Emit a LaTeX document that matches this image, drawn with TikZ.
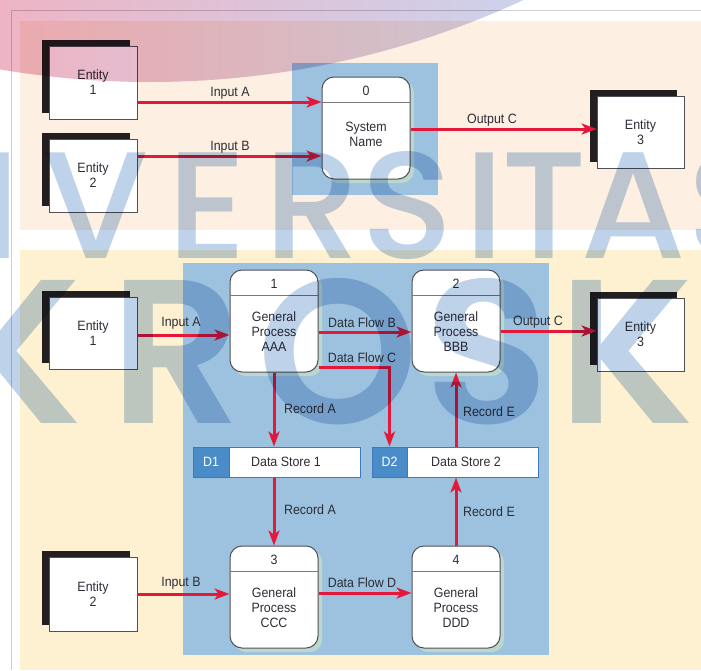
\documentclass[tikz,border=0pt]{standalone}
\usepackage{fontspec}
\setmainfont{Liberation Sans}[FakeStretch=0.92]
\newfontfamily\wmfontA{Poppins Medium}
\newfontfamily\wmfontB{Poppins SemiBold}
\usetikzlibrary{arrows.meta,shadows,calc}

\definecolor{peach}{RGB}{253,240,226}
\definecolor{cream}{RGB}{254,241,209}
\definecolor{zoneblue}{RGB}{156,194,223}
\definecolor{flowred}{RGB}{228,24,58}
\definecolor{inkgray}{RGB}{45,45,55}
\definecolor{entblack}{RGB}{35,31,32}
\definecolor{procline}{RGB}{80,80,88}
\definecolor{divgray}{RGB}{120,120,126}
\definecolor{procshade}{RGB}{188,215,206}
\definecolor{storeblue}{RGB}{74,140,199}
\definecolor{storeline}{RGB}{62,122,186}
\definecolor{framegray}{RGB}{205,207,212}
\definecolor{markblue}{RGB}{190,210,233}
\definecolor{arcpink}{RGB}{238,180,196}
\definecolor{arclilac}{RGB}{205,210,236}

\begin{document}
\begin{tikzpicture}[x=1pt,y=-1pt,
  every node/.style={font=\fontsize{13.5}{15}\selectfont, text=inkgray, inner sep=0pt},
  entity/.style={draw=procline, line width=0.8pt, fill=white,
    minimum width=88pt, minimum height=73pt, align=center,
    general shadow={fill=entblack, shadow xshift=-7pt, shadow yshift=6pt}},
  process/.style={draw=procline, line width=1pt, fill=white, rounded corners=12pt,
    minimum width=88pt, minimum height=102pt,
    general shadow={fill=procshade, shadow xshift=4pt, shadow yshift=-4pt}},
  divider/.style={draw=divgray, line width=1pt},
  proctext/.style={align=center},
  store/.style={draw=storeline, line width=1pt, fill=white, minimum height=30pt},
  storetag/.style={draw=storeline, line width=1pt, fill=storeblue, minimum height=30pt, text=white},
  flow/.style={draw=flowred, line width=3pt, -{Stealth[length=15pt,width=11pt,inset=4pt]}},
  flowlabel/.style={},
  wmletter/.style={anchor=base, text=markblue},
]
\useasboundingbox (0,0) rectangle (701,670);
\fill[white] (0,0) rectangle (701,670);

% page frame and the two panels
\draw[framegray, line width=1pt] (11,670) -- (11,10) -- (701,10);
\fill[peach] (20,21) rectangle (701,230);
\fill[cream] (20,250) rectangle (701,670);

% system boundaries
\fill[zoneblue] (292,63) rectangle (438,195);
\fill[zoneblue] (183,263) rectangle (549,655);

% ---------- context diagram ----------
\node[entity] (e1t) at (93,82.5) {Entity\\1};
\node[entity] (e2t) at (93,175.5) {Entity\\2};
\node[entity, minimum width=87pt, minimum height=72pt] (e3t) at (640.5,132) {Entity\\3};

\node[process] (p0) at (366,128) {};
\draw[divider] ($(p0.north west)+(0,26)$) -- ($(p0.north east)+(0,26)$);
\node (p0n) at ($(p0.north)+(0,14)$) {0};
\node[proctext] (p0t) at ($(p0.north)+(0,58)$) {System\\Name};

\coordinate (yia) at (0,102);
\coordinate (yib) at (0,156);
\coordinate (yoc) at (0,129);
\draw[flow] (e1t.east |- yia) -- (p0.west |- yia);
\draw[flow] (e2t.east |- yib) -- (p0.west |- yib);
\draw[flow] (p0.east |- yoc) -- (e3t.west |- yoc);
\node[flowlabel] (lia) at (230,93) {Input A};
\node[flowlabel] (lib) at (230,147) {Input B};
\node[flowlabel] (loc) at (492,120) {Output C};

% ---------- level-0 diagram ----------
\node[entity, minimum height=72pt] (e1b) at (93,333) {Entity\\1};
\node[entity, minimum width=87pt] (e3b) at (640.5,334.5) {Entity\\3};
\node[entity, minimum height=74pt] (e2b) at (93,594) {Entity\\2};

\node[process] (p1) at (274,321) {};
\node[process] (p2) at (456,321) {};
\node[process] (p3) at (274,597) {};
\node[process] (p4) at (456,597) {};
\foreach \p/\n/\t in {p1/1/AAA, p2/2/BBB, p3/3/CCC, p4/4/DDD}{
  \draw[divider] ($(\p.north west)+(0,26)$) -- ($(\p.north east)+(0,26)$);
  \node (\p n) at ($(\p.north)+(0,14)$) {\n};
  \node[proctext] (\p t) at ($(\p.north)+(0,62)$) {General\\Process\\\t};
}

% data stores
\node[store, minimum width=167pt] (ds1) at (276.5,462) {};
\node[storetag, minimum width=36pt] (ds1d) at (211,462) {D1};
\node (ds1t) at (286,462) {Data Store 1};
\node[store, minimum width=166pt] (ds2) at (455,462) {};
\node[storetag, minimum width=35pt] (ds2d) at (389.5,462) {D2};
\node (ds2t) at (466,462) {Data Store 2};

% flows
\coordinate (yia2) at (0,335);
\coordinate (yfb) at (0,332);
\coordinate (yfc) at (0,367);
\coordinate (yoc2) at (0,331);
\coordinate (yib2) at (0,594);
\coordinate (yfd) at (0,593);
\draw[flow] (e1b.east |- yia2) -- (p1.west |- yia2);
\draw[flow] (p1.east |- yfb) -- (p2.west |- yfb);
\draw[flow] (p1.east |- yfc) -| (ds2d.north);
\draw[flow] (p2.east |- yoc2) -- (e3b.west |- yoc2);
\draw[flow] (p1.south) -- (p1.south |- ds1.north);
\draw[flow] (ds2.north -| p2.south) -- (p2.south);
\draw[flow] (ds1.south -| p3.north) -- (p3.north);
\draw[flow] (p4.north) -- (p4.north |- ds2.south);
\draw[flow] (e2b.east |- yib2) -- (p3.west |- yib2);
\draw[flow] (p3.east |- yfd) -- (p4.west |- yfd);

\node[flowlabel] (lia2) at (181,323) {Input A};
\node[flowlabel] (lfb) at (362,323) {Data Flow B};
\node[flowlabel] (lfc) at (362,358) {Data Flow C};
\node[flowlabel] (loc2) at (538,322) {Output C};
\node[flowlabel] (lra1) at (310,409) {Record A};
\node[flowlabel] (lre1) at (489,412) {Record E};
\node[flowlabel] (lra2) at (310,510) {Record A};
\node[flowlabel] (lre2) at (489,512) {Record E};
\node[flowlabel] (lib2) at (181,583) {Input B};
\node[flowlabel] (lfd) at (362,583) {Data Flow D};

% ---------- watermark, multiplied onto the page ----------
\begin{scope}[blend mode=multiply]
  \begin{scope}
    \clip (0,0) rectangle (701,670);
    \clip (150,-807) circle[radius=889pt];
    \shade[left color=arcpink, right color=arclilac] (0,0) rectangle (530,95);
  \end{scope}
  \begin{scope}[every node/.append style={font=\wmfontA\fontsize{152}{152}\selectfont}]
    \foreach \l/\x in {I/1, V/96, E/207, R/313, S/407, I/485, T/544, A/633, S/733}
      \node[wmletter] at (\x,258) {\l};
  \end{scope}
  \begin{scope}[every node/.append style={font=\wmfontB\fontsize{205}{205}\selectfont}]
    \foreach \l/\x in {K/14, R/176, O/338, S/487, K/626}
      \node[wmletter] at (\x,423) {\l};
  \end{scope}
\end{scope}
\end{tikzpicture}
\end{document}
